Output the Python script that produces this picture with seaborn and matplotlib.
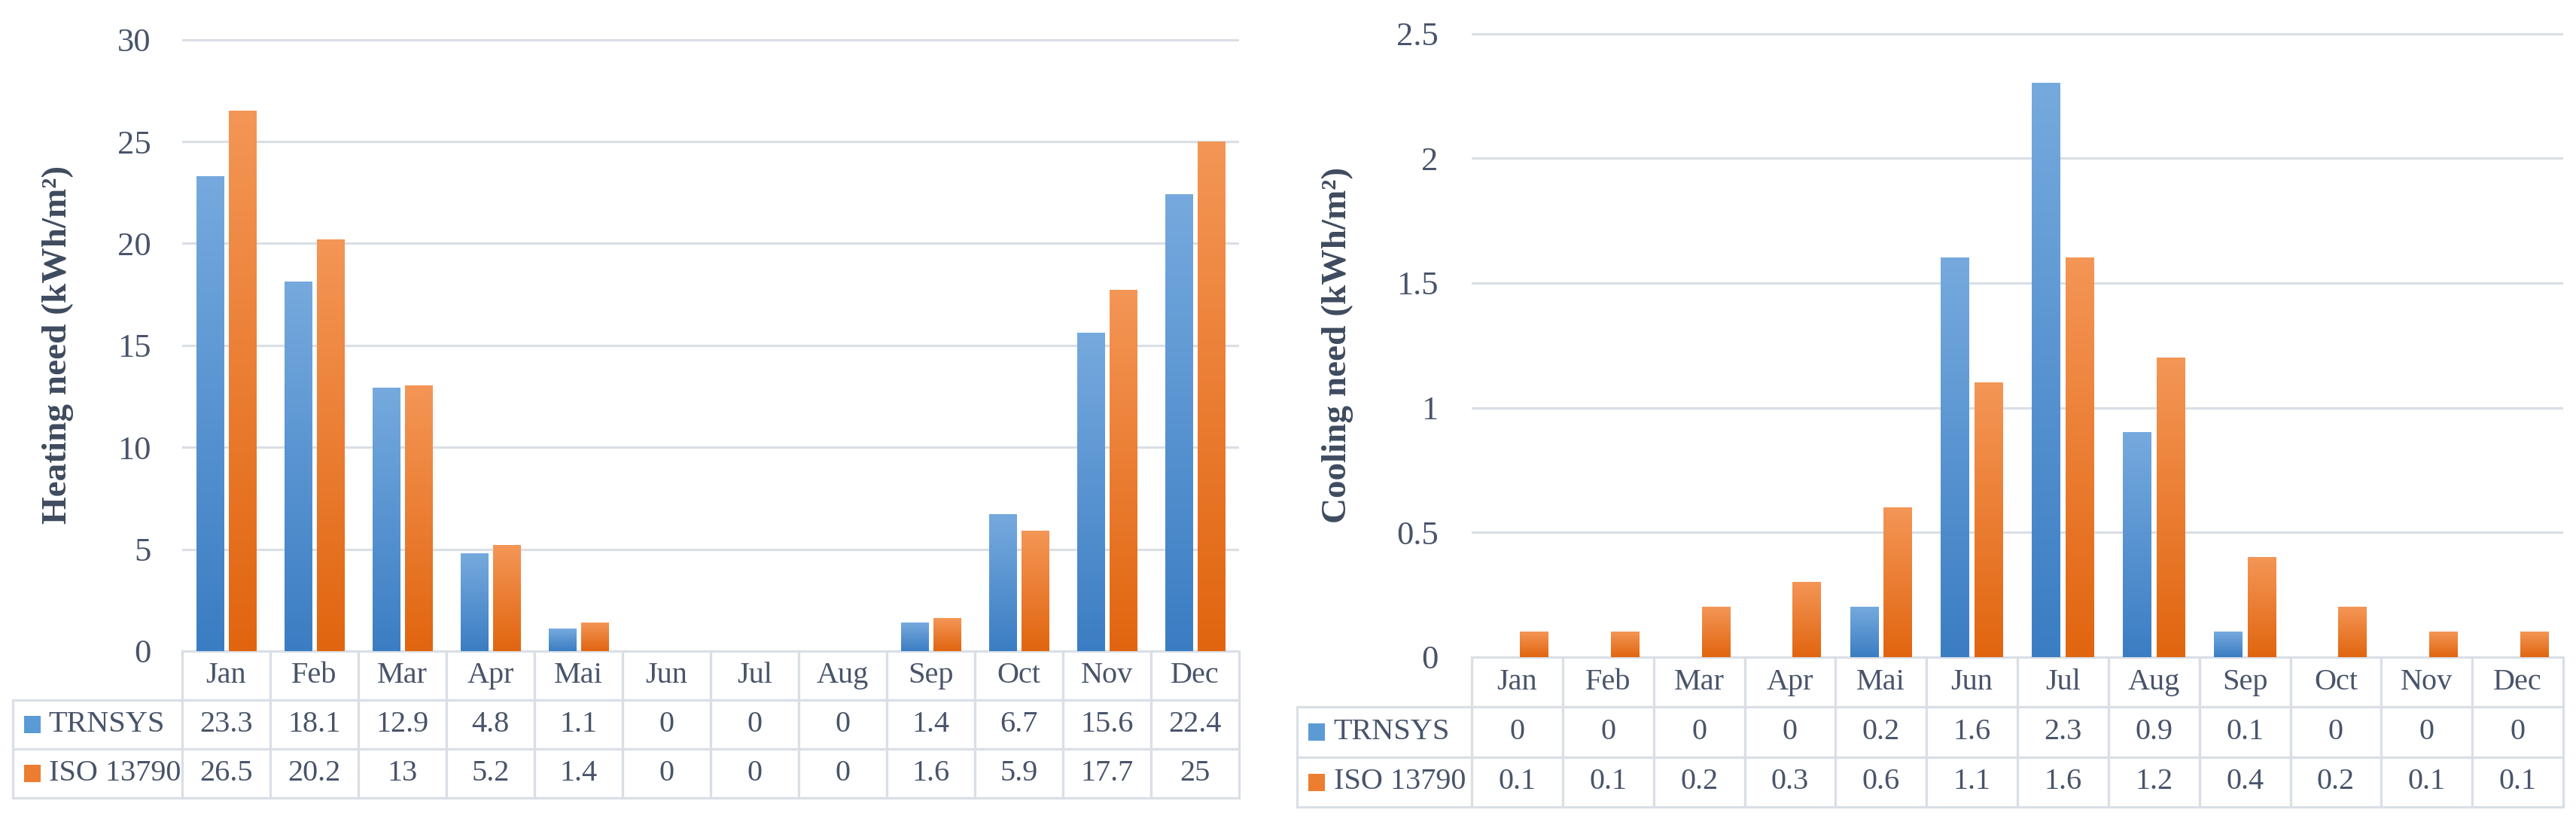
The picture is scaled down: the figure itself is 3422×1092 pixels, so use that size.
import numpy as np
import pandas as pd
import matplotlib
matplotlib.use("Agg")
import matplotlib.pyplot as plt
import seaborn as sns
from matplotlib.colors import LinearSegmentedColormap
from matplotlib.patches import Rectangle
from matplotlib.ticker import FuncFormatter, MultipleLocator

# Data
months = ["Jan", "Feb", "Mar", "Apr", "Mai", "Jun", "Jul", "Aug", "Sep", "Oct", "Nov", "Dec"]
series_names = ["TRNSYS", "ISO 13790"]
heating_trnsys = [23.3, 18.1, 12.9, 4.8, 1.1, 0, 0, 0, 1.4, 6.7, 15.6, 22.4]
heating_iso = [26.5, 20.2, 13, 5.2, 1.4, 0, 0, 0, 1.6, 5.9, 17.7, 25]
cooling_trnsys = [0, 0, 0, 0, 0.2, 1.6, 2.3, 0.9, 0.1, 0, 0, 0]
cooling_iso = [0.1, 0.1, 0.2, 0.3, 0.6, 1.1, 1.6, 1.2, 0.4, 0.2, 0.1, 0.1]

sns.set_theme(style="white")
plt.rcParams["font.family"] = ["Liberation Serif", "DejaVu Serif"]

TEXT = "#48546A"
LABEL = "#3E4A5E"
GRID = "#DADFE6"
blue_mid, orange_mid = "#5B9BD5", "#ED7D31"
gradients = [("#3B7DC3", "#76AADE"), ("#E1650F", "#F49656")]

W, H = 3422, 1092
fig = plt.figure(figsize=(W / 100, H / 100), dpi=100)


def axes_at(left, right, top, bottom):
    return fig.add_axes([left / W, 1 - bottom / H, (right - left) / W, (bottom - top) / H])


def draw_panel(ax, trnsys, iso, ymax, ystep, ylabel, label_x, tick_pad):
    df = pd.DataFrame({
        "month": months * 2,
        "series": [series_names[0]] * 12 + [series_names[1]] * 12,
        "value": trnsys + iso,
    })
    sns.barplot(data=df, x="month", y="value", hue="series", hue_order=series_names,
                palette=[blue_mid, orange_mid], saturation=1, width=0.74, gap=0.16,
                legend=False, ax=ax)

    # vertical gradient fill on every bar
    grad = np.linspace(0, 1, 256).reshape(-1, 1)
    for container, (bottom_c, top_c) in zip(ax.containers, gradients):
        cmap = LinearSegmentedColormap.from_list("g", [bottom_c, top_c])
        for bar in container:
            h = bar.get_height()
            bar.set_visible(False)
            if h <= 0:
                continue
            x0 = bar.get_x()
            ax.imshow(grad, extent=(x0, x0 + bar.get_width(), 0, h), origin="lower",
                      aspect="auto", cmap=cmap, zorder=2, interpolation="bilinear")

    ax.set_xlim(-0.5, 11.5)
    ax.set_ylim(0, ymax * 1.002)
    ax.yaxis.set_major_locator(MultipleLocator(ystep))
    ax.yaxis.set_major_formatter(FuncFormatter(lambda v, p: f"{v:g}"))
    ax.set_xticks([])
    ax.set_xlabel("")
    ax.yaxis.grid(True, color=GRID, linewidth=2.3)
    ax.set_axisbelow(True)
    for s in ax.spines.values():
        s.set_visible(False)
    ax.tick_params(axis="y", length=0, pad=tick_pad, labelsize=32, labelcolor=TEXT)

    ax.set_ylabel(ylabel, fontsize=34, fontweight="bold", color=LABEL)
    ax.yaxis.label.set_verticalalignment("center")
    ax.yaxis.set_label_coords(label_x, 0.5)

    # data table under the plot
    cell_text = [[name] + [f"{v:g}" for v in vals]
                 for name, vals in zip(series_names, [trnsys, iso])]
    tbl = ax.table(cellText=cell_text, colLabels=[""] + months,
                   colWidths=[0.16] + [1 / 12] * 12, cellLoc="center",
                   bbox=[-0.16, -0.24, 1.16, 0.24])
    tbl.auto_set_font_size(False)
    tbl.set_fontsize(29)
    for (r, c), cell in tbl.get_celld().items():
        cell.set_edgecolor(GRID)
        cell.set_linewidth(2.3)
        cell.get_text().set_color(TEXT)
        if r == 0 and c == 0:
            cell.set_linewidth(0)
        if r > 0 and c == 0:
            cell.get_text().set_horizontalalignment("left")
            cell.PAD = 0.21

    # legend keys in the table's first column
    bb = ax.get_position()
    ax_w = bb.width * W
    ax_h = bb.height * H
    for i, col in enumerate([blue_mid, orange_mid]):
        yc = -0.08 * (i + 1) - 0.04
        sq_w, sq_h = 22 / ax_w, 23 / ax_h
        ax.add_patch(Rectangle((-0.16 + 15 / ax_w, yc - sq_h / 2), sq_w, sq_h,
                               transform=ax.transAxes, facecolor=col, edgecolor="none",
                               clip_on=False, zorder=5))


ax1 = axes_at(242, 1646, 51, 865)
draw_panel(ax1, heating_trnsys, heating_iso, 30, 5,
           "Heating need (kWh/m²)", -0.1175, 30)

ax2 = axes_at(1955, 3405, 43, 873)
draw_panel(ax2, cooling_trnsys, cooling_iso, 2.5, 0.5,
           "Cooling need (kWh/m²)", -0.123, 32)

fig.savefig("out.png", dpi=100, facecolor="white")
